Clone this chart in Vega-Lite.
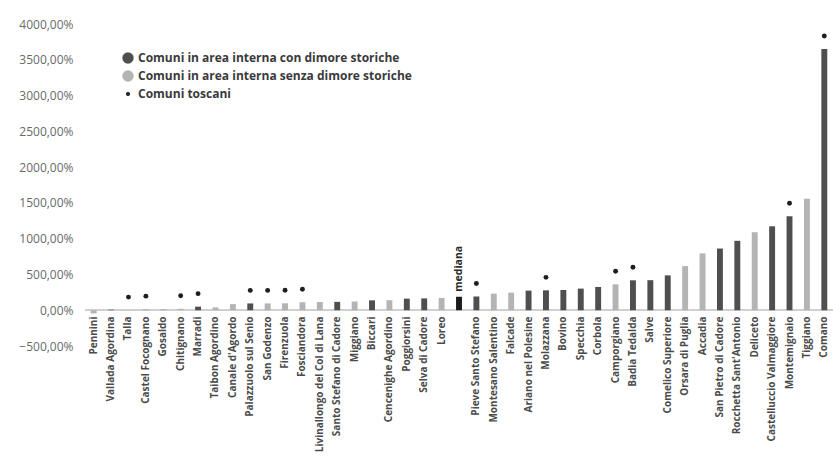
{
  "$schema": "https://vega.github.io/schema/vega-lite/v6.json",
  "autosize": "none",
  "width": 748,
  "height": 322,
  "padding": {"left": 85, "top": 24, "right": 0, "bottom": 111},
  "background": "#ffffff",
  "config": {"view": {"stroke": null}, "font": "Open Sans", "axis": {"labelOverlap": false}, "axisY": {"labelOverlap": false}},
  "data": {"values": [
    {"name": "Pennini", "value": -45, "grp": "Comuni in area interna senza dimore storiche", "tosc": false},
    {"name": "Vallada Agordina", "value": 8, "grp": "Comuni in area interna con dimore storiche", "tosc": false},
    {"name": "Talla", "value": 2, "grp": "Comuni in area interna senza dimore storiche", "tosc": true},
    {"name": "Castel Focognano", "value": 15, "grp": "Comuni in area interna senza dimore storiche", "tosc": true},
    {"name": "Gosaldo", "value": 15, "grp": "Comuni in area interna senza dimore storiche", "tosc": false},
    {"name": "Chitignano", "value": 20, "grp": "Comuni in area interna senza dimore storiche", "tosc": true},
    {"name": "Marradi", "value": 50, "grp": "Comuni in area interna con dimore storiche", "tosc": true},
    {"name": "Taibon Agordino", "value": 40, "grp": "Comuni in area interna senza dimore storiche", "tosc": false},
    {"name": "Canale d'Agordo", "value": 85, "grp": "Comuni in area interna senza dimore storiche", "tosc": false},
    {"name": "Palazzuolo sul Senio", "value": 95, "grp": "Comuni in area interna con dimore storiche", "tosc": true},
    {"name": "San Godenzo", "value": 95, "grp": "Comuni in area interna senza dimore storiche", "tosc": true},
    {"name": "Firenzuola", "value": 97, "grp": "Comuni in area interna senza dimore storiche", "tosc": true},
    {"name": "Fosciandora", "value": 112, "grp": "Comuni in area interna senza dimore storiche", "tosc": true},
    {"name": "Livinallongo del Col di Lana", "value": 115, "grp": "Comuni in area interna senza dimore storiche", "tosc": false},
    {"name": "Santo Stefano di Cadore", "value": 117, "grp": "Comuni in area interna con dimore storiche", "tosc": false},
    {"name": "Miggiano", "value": 122, "grp": "Comuni in area interna senza dimore storiche", "tosc": false},
    {"name": "Biccari", "value": 138, "grp": "Comuni in area interna con dimore storiche", "tosc": false},
    {"name": "Cencenighe Agordino", "value": 140, "grp": "Comuni in area interna senza dimore storiche", "tosc": false},
    {"name": "Poggiorsini", "value": 162, "grp": "Comuni in area interna con dimore storiche", "tosc": false},
    {"name": "Selva di Cadore", "value": 165, "grp": "Comuni in area interna con dimore storiche", "tosc": false},
    {"name": "Loreo", "value": 172, "grp": "Comuni in area interna senza dimore storiche", "tosc": false},
    {"name": "mediana", "value": 188, "grp": "mediana", "tosc": false},
    {"name": "Pieve Santo Stefano", "value": 192, "grp": "Comuni in area interna con dimore storiche", "tosc": true},
    {"name": "Montesano Salentino", "value": 232, "grp": "Comuni in area interna senza dimore storiche", "tosc": false},
    {"name": "Falcade", "value": 246, "grp": "Comuni in area interna senza dimore storiche", "tosc": false},
    {"name": "Ariano nel Polesine", "value": 274, "grp": "Comuni in area interna con dimore storiche", "tosc": false},
    {"name": "Molazzana", "value": 278, "grp": "Comuni in area interna con dimore storiche", "tosc": true},
    {"name": "Bovino", "value": 283, "grp": "Comuni in area interna con dimore storiche", "tosc": false},
    {"name": "Specchia", "value": 302, "grp": "Comuni in area interna con dimore storiche", "tosc": false},
    {"name": "Corbola", "value": 325, "grp": "Comuni in area interna con dimore storiche", "tosc": false},
    {"name": "Camporgiano", "value": 362, "grp": "Comuni in area interna senza dimore storiche", "tosc": true},
    {"name": "Badia Tedalda", "value": 418, "grp": "Comuni in area interna con dimore storiche", "tosc": true},
    {"name": "Salve", "value": 420, "grp": "Comuni in area interna con dimore storiche", "tosc": false},
    {"name": "Comelico Superiore", "value": 487, "grp": "Comuni in area interna con dimore storiche", "tosc": false},
    {"name": "Orsara di Puglia", "value": 617, "grp": "Comuni in area interna senza dimore storiche", "tosc": false},
    {"name": "Accadia", "value": 794, "grp": "Comuni in area interna senza dimore storiche", "tosc": false},
    {"name": "San Pietro di Cadore", "value": 862, "grp": "Comuni in area interna con dimore storiche", "tosc": false},
    {"name": "Rocchetta Sant'Antonio", "value": 970, "grp": "Comuni in area interna con dimore storiche", "tosc": false},
    {"name": "Deliceto", "value": 1090, "grp": "Comuni in area interna senza dimore storiche", "tosc": false},
    {"name": "Castelluccio Valmaggiore", "value": 1173, "grp": "Comuni in area interna con dimore storiche", "tosc": false},
    {"name": "Montemignaio", "value": 1313, "grp": "Comuni in area interna con dimore storiche", "tosc": true},
    {"name": "Tiggiano", "value": 1558, "grp": "Comuni in area interna senza dimore storiche", "tosc": false},
    {"name": "Comano", "value": 3650, "grp": "Comuni in area interna con dimore storiche", "tosc": true}
  ]},
  "encoding": {
    "x": {
      "field": "name", "type": "nominal", "sort": null, "title": null,
      "scale": {"paddingInner": 0.66, "paddingOuter": 0.33},
      "axis": {
        "labelAngle": 270, "labelFontSize": 10, "labelFontWeight": "bold", "labelColor": "#4a4a4a",
        "labelPadding": 6, "ticks": false, "domain": false, "offset": -36,
        "labelExpr": "datum.value === 'mediana' ? '' : datum.value", "labelLimit": 200, "labelOverlap": false
      }
    },
    "y": {
      "field": "value", "type": "quantitative", "title": null,
      "scale": {"domain": [-500, 4000], "nice": false},
      "axis": {
        "values": [-500, 0, 500, 1000, 1500, 2000, 2500, 3000, 3500, 4000],
        "labelExpr": "replace(format(datum.value, '.2f'), '.', ',') + '%'",
        "grid": false, "domain": false, "ticks": false, "labelPadding": 12,
        "labelFontSize": 12, "labelColor": "#6a6a6a", "labelOverlap": false, "labelBound": false, "labelFlush": false
      }
    }
  },
  "layer": [
    {
      "mark": {"type": "rule", "color": "#cfcfcf", "strokeWidth": 1},
      "encoding": {"y": {"datum": 0}, "x": null}
    },
    {
      "mark": {"type": "bar"},
      "encoding": {
        "color": {
          "field": "grp", "type": "nominal", "title": null,
          "scale": {
            "domain": ["Comuni in area interna con dimore storiche", "Comuni in area interna senza dimore storiche", "Comuni toscani", "mediana"],
            "range": ["#4f4f4f", "#b4b4b4", "#1e1e1e", "#1a1a1a"]
          },
          "legend": {
            "values": ["Comuni in area interna con dimore storiche", "Comuni in area interna senza dimore storiche", "Comuni toscani"],
            "orient": "none", "legendX": 37, "legendY": 28,
            "symbolType": "circle", "symbolSize": 130, "symbolStrokeWidth": 0,
            "labelFontSize": 12, "labelFontWeight": "bold", "labelColor": "#3a3a3a", "labelLimit": 400,
            "rowPadding": 6,
            "encode": {"symbols": {"update": {"size": {"signal": "datum.value === 'Comuni toscani' ? 18 : 130"}, "fill": {"signal": "datum.value === 'Comuni in area interna con dimore storiche' ? '#222222' : datum.value === 'Comuni in area interna senza dimore storiche' ? '#c8c8c8' : '#1e1e1e'"}}}}
          }
        }
      }
    },
    {
      "transform": [{"filter": "datum.tosc"}],
      "mark": {"type": "point", "shape": "circle", "filled": true, "size": 24, "yOffset": -13, "color": "#1e1e1e", "opacity": 1}
    },
    {
      "transform": [{"filter": "datum.name === 'mediana'"}],
      "mark": {"type": "text", "angle": 270, "align": "left", "baseline": "middle", "dx": 5, "fontSize": 10.5, "fontWeight": "bold", "color": "#2a2a2a"},
      "encoding": {"text": {"field": "name"}}
    }
  ]
}
